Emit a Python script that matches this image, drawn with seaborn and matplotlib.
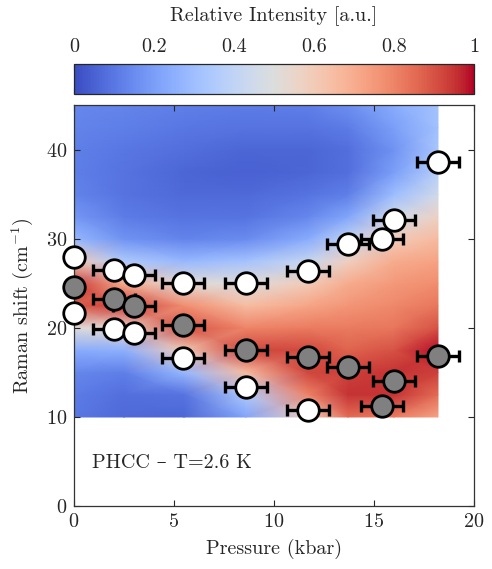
import numpy as np
import pandas as pd
import seaborn as sns
import matplotlib.pyplot as plt

# Intensity map (rows = Raman shift, cols = pressure)
map_pressure = [0, 2.5, 5.5, 8.6, 11.7, 13.7, 16.0, 18.2]
map_shift = [10, 12.5, 15, 17.5, 20, 22.5, 25, 27.5, 30, 32.5, 35, 37.5, 40, 42.5, 45]
intensity = [
    [0.10, 0.07, 0.06, 0.22, 0.58, 0.85, 0.82, 0.72],
    [0.11, 0.08, 0.09, 0.35, 0.80, 0.95, 0.95, 0.85],
    [0.14, 0.12, 0.28, 0.65, 0.92, 0.93, 0.95, 0.93],
    [0.24, 0.25, 0.60, 0.92, 0.92, 0.87, 0.90, 0.99],
    [0.50, 0.55, 0.90, 0.80, 0.82, 0.82, 0.83, 0.90],
    [0.88, 0.94, 0.78, 0.65, 0.72, 0.76, 0.79, 0.83],
    [0.94, 0.70, 0.52, 0.50, 0.60, 0.70, 0.75, 0.78],
    [0.60, 0.35, 0.28, 0.32, 0.42, 0.58, 0.70, 0.73],
    [0.28, 0.17, 0.13, 0.15, 0.24, 0.40, 0.60, 0.66],
    [0.18, 0.11, 0.09, 0.09, 0.14, 0.22, 0.45, 0.57],
    [0.13, 0.09, 0.07, 0.07, 0.09, 0.12, 0.30, 0.45],
    [0.12, 0.09, 0.06, 0.05, 0.06, 0.08, 0.20, 0.37],
    [0.12, 0.10, 0.08, 0.06, 0.06, 0.08, 0.17, 0.33],
    [0.13, 0.12, 0.10, 0.09, 0.09, 0.11, 0.20, 0.31],
    [0.14, 0.13, 0.12, 0.11, 0.12, 0.16, 0.24, 0.32],
]

# Fitted peak positions
white_p = [0, 0, 2, 2, 3, 3, 5.45, 5.45, 8.6, 8.6, 11.7, 11.7, 13.7, 15.4, 16.0, 18.2]
white_s = [28.0, 21.7, 26.5, 19.9, 25.9, 19.4, 25.1, 16.6, 25.1, 13.4, 26.4, 10.8, 29.4, 30.0, 32.1, 38.7]
white_err = [0, 0, 1.05, 1.05, 1.05, 1.05, 1.05, 1.05, 1.05, 1.05, 1.05, 1.05, 1.05, 1.05, 1.05, 1.05]

gray_p = [0, 2, 3, 5.45, 8.6, 11.7, 13.7, 15.4, 16.0, 18.2]
gray_s = [24.6, 23.3, 22.5, 20.3, 17.5, 16.7, 15.6, 11.2, 14.0, 16.9]
gray_err = [0, 1.05, 1.05, 1.05, 1.05, 1.05, 1.05, 1.05, 1.05, 1.05]

sns.set_style("ticks")
plt.rcParams['font.family'] = ['cmr10', 'DejaVu Serif']
plt.rcParams['mathtext.fontset'] = 'cm'
plt.rcParams['axes.formatter.use_mathtext'] = True
plt.rcParams['axes.unicode_minus'] = False
fs = 14.5

fig = plt.figure(figsize=(4.92, 5.69), dpi=100)
ax = fig.add_axes([0.1504, 0.1107, 0.813, 0.704])
cax = fig.add_axes([0.1504, 0.8348, 0.813, 0.0527])

mesh = ax.pcolormesh(np.array(map_pressure), np.array(map_shift), np.array(intensity),
                     shading='gouraud', cmap='coolwarm', vmin=0, vmax=1, zorder=0)

white = pd.DataFrame({'p': white_p, 's': white_s, 'err': white_err})
gray = pd.DataFrame({'p': gray_p, 's': gray_s, 'err': gray_err})

for df, col in [(gray, '#808080'), (white, 'white')]:
    eb = ax.errorbar(df['p'], df['s'], xerr=df['err'], fmt='none', ecolor='black',
                     elinewidth=2.4, capsize=4.5, capthick=2.4, zorder=2)
    for art in eb.get_children():
        art.set_clip_on(False)
    sns.scatterplot(data=df, x='p', y='s', ax=ax, s=240, color=col,
                    edgecolor='black', linewidth=2.0, zorder=3, legend=False)
for c in ax.collections:
    c.set_clip_on(False)
mesh.set_clip_on(True)

ax.set_xlim(0, 20)
ax.set_ylim(0, 45)
ax.set_xticks([0, 5, 10, 15, 20])
ax.set_yticks([0, 10, 20, 30, 40])
ax.tick_params(direction='in', top=True, right=True, length=4, width=0.8,
               labelsize=fs, pad=5)
for sp in ax.spines.values():
    sp.set_linewidth(0.9)
    sp.set_color('#333333')
ax.set_xlabel('Pressure (kbar)', fontsize=fs, labelpad=6)
ax.set_ylabel('Raman shift (cm$^{-1}$)', fontsize=fs, labelpad=8)
ax.text(0.9, 4.8, 'PHCC – T=2.6 K', fontsize=fs, va='center', ha='left')

cb = fig.colorbar(mesh, cax=cax, orientation='horizontal')
cb.set_ticks([0, 0.2, 0.4, 0.6, 0.8, 1])
cb.set_ticklabels(['0', '0.2', '0.4', '0.6', '0.8', '1'])
cax.xaxis.set_ticks_position('both')
cax.xaxis.set_label_position('top')
cax.tick_params(axis='x', direction='in', length=4, width=0.8, labeltop=True,
                labelbottom=False, labelsize=fs, pad=6)
cb.outline.set_linewidth(0.9)
cax.set_xlabel('Relative Intensity [a.u.]', fontsize=fs, labelpad=12)

fig.savefig('out.png', dpi=100)
